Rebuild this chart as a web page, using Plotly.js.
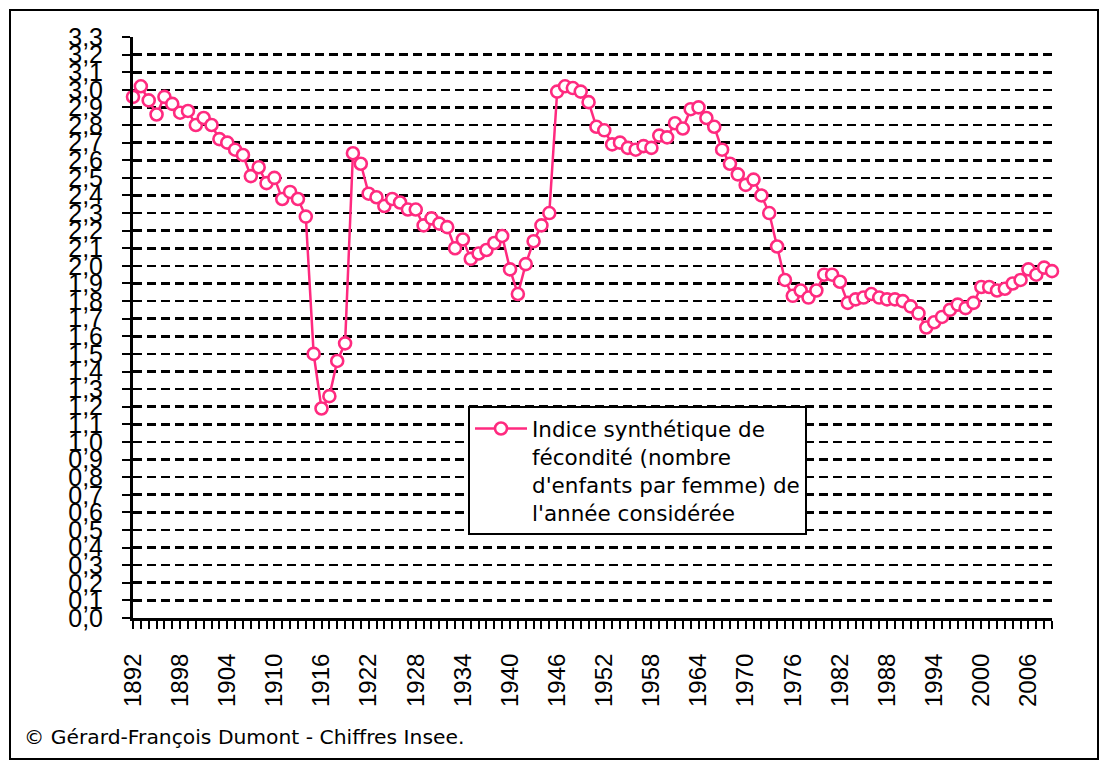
<!DOCTYPE html>
<html>
<head>
<meta charset="utf-8">
<script src="https://cdn.plot.ly/plotly-3.0.1.min.js"></script>
<style>
  html, body { margin: 0; padding: 0; background: #fff; }
  #wrap { position: relative; width: 1107px; height: 763px; }
  #chart { width: 1107px; height: 763px; }
  #frame { position: absolute; left: 9px; top: 9px; width: 1086px; height: 747px; border: 2px solid #000; pointer-events: none; }
</style>
</head>
<body>
<div id="wrap">
  <div id="chart"></div>
  <div id="frame"></div>
</div>
<script>
// Years (categories)
const years = [
  1892,1893,1894,1895,1896,1897,1898,1899,1900,1901,
  1902,1903,1904,1905,1906,1907,1908,1909,1910,1911,
  1912,1913,1914,1915,1916,1917,1918,1919,1920,1921,
  1922,1923,1924,1925,1926,1927,1928,1929,1930,1931,
  1932,1933,1934,1935,1936,1937,1938,1939,1940,1941,
  1942,1943,1944,1945,1946,1947,1948,1949,1950,1951,
  1952,1953,1954,1955,1956,1957,1958,1959,1960,1961,
  1962,1963,1964,1965,1966,1967,1968,1969,1970,1971,
  1972,1973,1974,1975,1976,1977,1978,1979,1980,1981,
  1982,1983,1984,1985,1986,1987,1988,1989,1990,1991,
  1992,1993,1994,1995,1996,1997,1998,1999,2000,2001,
  2002,2003,2004,2005,2006,2007,2008,2009
];

// Indice synthétique de fécondité (nombre d'enfants par femme)
const isf = [
  2.96,3.02,2.94,2.86,2.96,2.92,2.87,2.88,2.80,2.84,
  2.80,2.72,2.70,2.66,2.63,2.51,2.56,2.47,2.50,2.38,
  2.42,2.38,2.28,1.50,1.19,1.26,1.46,1.56,2.64,2.58,
  2.41,2.39,2.34,2.38,2.36,2.32,2.32,2.23,2.27,2.24,
  2.22,2.10,2.15,2.04,2.07,2.09,2.13,2.17,1.98,1.84,
  2.01,2.14,2.23,2.30,2.99,3.02,3.01,2.99,2.93,2.79,
  2.77,2.69,2.70,2.67,2.66,2.68,2.67,2.74,2.73,2.81,
  2.78,2.89,2.90,2.84,2.79,2.66,2.58,2.52,2.46,2.49,
  2.40,2.30,2.11,1.92,1.83,1.86,1.82,1.86,1.95,1.95,
  1.91,1.79,1.81,1.82,1.84,1.82,1.81,1.81,1.80,1.77,
  1.73,1.65,1.68,1.71,1.75,1.78,1.76,1.79,1.88,1.88,
  1.86,1.87,1.90,1.92,1.98,1.95,1.99,1.97
];

const seriesName = "Indice synthétique de<br>fécondité (nombre<br>d'enfants par femme) de<br>l'année considérée";

const xTickVals = [1892,1898,1904,1910,1916,1922,1928,1934,1940,1946,1952,1958,1964,1970,1976,1982,1988,1994,2000,2006];
const xTickText = ["1892","1898","1904","1910","1916","1922","1928","1934","1940","1946","1952","1958","1964","1970","1976","1982","1988","1994","2000","2006"];

const yTickVals = [0,0.1,0.2,0.3,0.4,0.5,0.6,0.7,0.8,0.9,1.0,1.1,1.2,1.3,1.4,1.5,1.6,1.7,1.8,1.9,2.0,2.1,2.2,2.3,2.4,2.5,2.6,2.7,2.8,2.9,3.0,3.1,3.2,3.3];
const yTickText = ["0,0","0,1","0,2","0,3","0,4","0,5","0,6","0,7","0,8","0,9","1,0","1,1","1,2","1,3","1,4","1,5","1,6","1,7","1,8","1,9","2,0","2,1","2,2","2,3","2,4","2,5","2,6","2,7","2,8","2,9","3,0","3,1","3,2","3,3"];

const creditText = "© Gérard-François Dumont - Chiffres Insee.";

const pink = '#ff2a7f';

const trace = {
  x: years,
  y: isf,
  type: 'scatter',
  mode: 'lines+markers',
  name: seriesName,
  line: { color: pink, width: 2.5 },
  marker: { symbol: 'circle', size: 12, color: '#ffffff', line: { color: pink, width: 2.6 } },
  cliponaxis: false
};

const xr = [years[0], years[years.length - 1]];

const layout = {
  width: 1107,
  height: 763,
  margin: { l: 133, r: 55, t: 37, b: 145 },
  paper_bgcolor: '#ffffff',
  plot_bgcolor: '#ffffff',
  showlegend: true,
  xaxis: {
    type: 'linear',
    range: xr,
    tickmode: 'array',
    tickvals: xTickVals,
    ticktext: xTickText,
    tickangle: -90,
    ticks: 'outside',
    ticklen: 8,
    tickwidth: 2,
    tickcolor: '#000',
    ticklabelstandoff: 15,
    minor: { tickmode: 'linear', tick0: 1892, dtick: 1, ticks: 'outside', ticklen: 8, tickwidth: 2, tickcolor: '#000', showgrid: false },
    showgrid: false,
    zeroline: false,
    showline: true,
    linecolor: '#000',
    linewidth: 3,
    tickfont: { family: 'Liberation Sans, Arial, sans-serif', size: 24, color: '#000' },
    fixedrange: true
  },
  xaxis2: {
    type: 'linear',
    range: xr,
    overlaying: 'x',
    anchor: 'y',
    side: 'bottom',
    tickmode: 'linear',
    tick0: 1892,
    dtick: 1,
    ticks: 'inside',
    ticklen: 8,
    tickwidth: 2,
    tickcolor: '#000',
    showticklabels: false,
    showgrid: false,
    zeroline: false,
    showline: false
  },
  yaxis: {
    range: [0, 3.3],
    tickmode: 'array',
    tickvals: yTickVals,
    ticktext: yTickText,
    ticks: 'outside',
    ticklen: 8,
    tickwidth: 2,
    tickcolor: '#000',
    ticklabelstandoff: 14,
    showgrid: true,
    gridcolor: '#000',
    gridwidth: 2.6,
    griddash: '9px,5px',
    zeroline: false,
    showline: true,
    linecolor: '#000',
    linewidth: 3,
    tickfont: { family: 'Liberation Sans, Arial, sans-serif', size: 25, color: '#000' },
    fixedrange: true
  },
  legend: {
    x: (468 - 133) / 919,
    y: (618 - 406) / 581,
    xanchor: 'left',
    yanchor: 'top',
    bgcolor: '#ffffff',
    bordercolor: '#000',
    borderwidth: 2,
    valign: 'top',
    itemwidth: 52,
    font: { family: 'DejaVu Sans, sans-serif', size: 21.5, color: '#000' }
  },
  annotations: [{
    text: creditText,
    xref: 'paper', yref: 'paper',
    x: (22 - 133) / 919, y: (618 - 737) / 581,
    xanchor: 'left', yanchor: 'middle',
    showarrow: false,
    font: { family: 'DejaVu Sans, sans-serif', size: 20.3, color: '#000' }
  }]
};

Plotly.newPlot('chart', [trace], layout, { displayModeBar: false, staticPlot: true });
</script>
</body>
</html>
